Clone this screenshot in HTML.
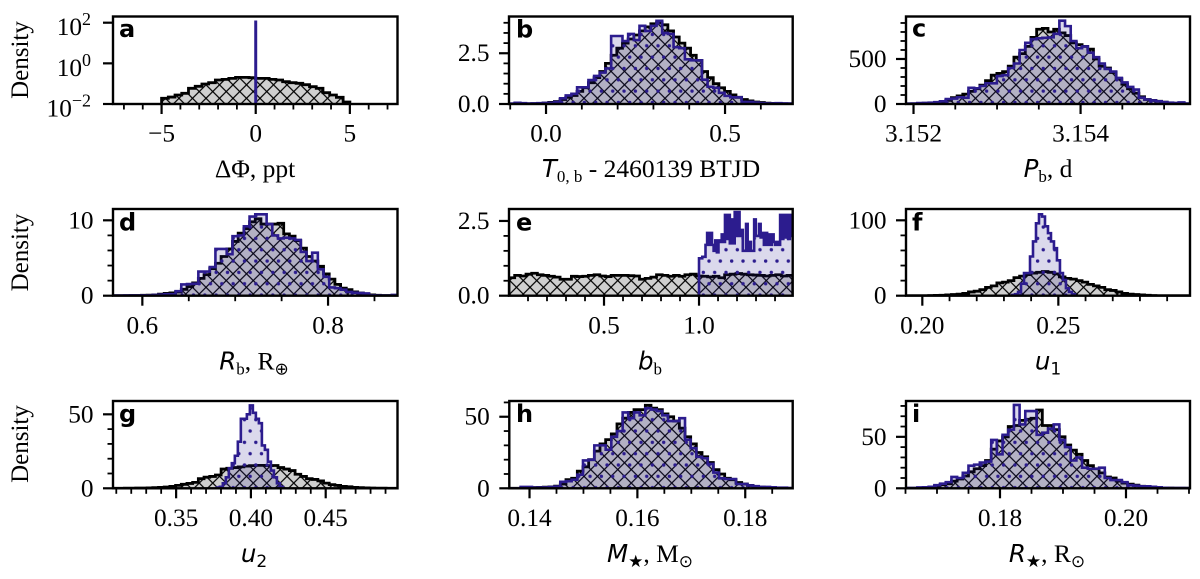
<!DOCTYPE html>
<html lang="en">
<head>
<meta charset="utf-8">
<title>Posterior density histograms</title>
<style>
html,body{margin:0;padding:0;background:#fff;}
svg{display:block;}
text{font-family:"Liberation Serif","DejaVu Serif",serif;fill:#000;}
.tick-text{font-size:25.3px;}
.ax-title{font-size:25.5px;}
.ax-y{font-size:25px;}
.it{font-family:"DejaVu Sans",sans-serif;font-style:italic;font-size:24.5px;}
.sub{font-family:"Liberation Serif",serif;font-size:17px;}
.subs{font-family:"DejaVu Sans",sans-serif;font-size:17px;}
.letter{font-family:"DejaVu Sans",sans-serif;font-weight:700;font-size:24px;}
</style>
</head>
<body>
<svg id="figure" xmlns="http://www.w3.org/2000/svg" width="1200" height="579" viewBox="0 0 1200 579">
  <defs>
    <pattern id="hatch-x" patternUnits="userSpaceOnUse" width="13.5" height="13.5" patternTransform="translate(3.5 3.8)">
      <path d="M-1,-1 L14.5,14.5 M14.5,-1 L-1,14.5" stroke="#000" stroke-width="1.2" fill="none"/>
    </pattern>
    <pattern id="hatch-dot" patternUnits="userSpaceOnUse" width="11.33" height="22.66">
      <circle cx="6.56" cy="11.8" r="1.7" fill="#2c1c8e"/>
      <circle cx="0.9" cy="0.47" r="1.7" fill="#2c1c8e"/>
      <circle cx="12.23" cy="0.47" r="1.7" fill="#2c1c8e"/>
      <circle cx="0.9" cy="23.13" r="1.7" fill="#2c1c8e"/>
      <circle cx="12.23" cy="23.13" r="1.7" fill="#2c1c8e"/>
    </pattern>
  </defs>
  <g id="plots"></g>

  <!-- y axis titles -->
  <text class="ax-y" text-anchor="middle" transform="translate(28,60) rotate(-90)">Density</text>
  <text class="ax-y" text-anchor="middle" transform="translate(28,252.5) rotate(-90)">Density</text>
  <text class="ax-y" text-anchor="middle" transform="translate(28,444) rotate(-90)">Density</text>

  <!-- x axis titles -->
  <text class="ax-title" x="255" y="177" text-anchor="middle">ΔΦ, ppt</text>
  <text class="ax-title" x="651" y="177" text-anchor="middle"><tspan class="it">T</tspan><tspan class="sub" dy="5">0, b</tspan><tspan dy="-5"> - 2460139 BTJD</tspan></text>
  <text class="ax-title" x="1048" y="177" text-anchor="middle"><tspan class="it">P</tspan><tspan class="sub" dy="5">b</tspan><tspan dy="-5">, d</tspan></text>
  <text class="ax-title" x="254" y="369.5" text-anchor="middle"><tspan class="it">R</tspan><tspan class="sub" dy="5">b</tspan><tspan dy="-5">, R</tspan><tspan class="sub" dy="5">⊕</tspan></text>
  <text class="ax-title" x="650" y="369.5" text-anchor="middle"><tspan class="it">b</tspan><tspan class="sub" dy="5">b</tspan></text>
  <text class="ax-title" x="1048" y="369.5" text-anchor="middle"><tspan class="it">u</tspan><tspan class="subs" dy="5">1</tspan></text>
  <text class="ax-title" x="254" y="562" text-anchor="middle"><tspan class="it">u</tspan><tspan class="subs" dy="5">2</tspan></text>
  <text class="ax-title" x="650" y="562" text-anchor="middle"><tspan class="it">M</tspan><tspan class="sub" dy="5">★</tspan><tspan dy="-5">, M</tspan><tspan class="sub" dy="5">⊙</tspan></text>
  <text class="ax-title" x="1047" y="562" text-anchor="middle"><tspan class="it">R</tspan><tspan class="sub" dy="5">★</tspan><tspan dy="-5">, R</tspan><tspan class="sub" dy="5">⊙</tspan></text>

  <!-- panel letters -->
  <text class="letter" x="119" y="37">a</text>
  <text class="letter" x="516" y="37.5">b</text>
  <text class="letter" x="912" y="36.5">c</text>
  <text class="letter" x="119" y="230.5">d</text>
  <text class="letter" x="516" y="230.5">e</text>
  <text class="letter" x="912" y="230.5">f</text>
  <text class="letter" x="119" y="422">g</text>
  <text class="letter" x="516" y="422">h</text>
  <text class="letter" x="912" y="422">i</text>
</svg>

<script>
// ---- panel a ----
const aBlack = [.019,.022,.0277,.0335,.059,.074,.096,.112,.152,.163,
  .183,.205,.205,.197,.183,.183,.163,.152,.125,.112,
  .104,.089,.071,.059,.036,.0277,.0213,.0125];
const aBlackRange = [-5, 5];
const aBlue = [110];
const aBlueRange = [-0.01, 0.01];
const aXMajor = [-5, 0, 5];
const aXLabels = ["−5", "0", "5"];
const aXMinor = [-7,-6,-4,-3,-2,-1,1,2,3,4,6,7];
const aYMajor = [0.01, 1, 100];
const aYExp = ["−2", "0", "2"];

// ---- panel b ----
const bBlack = [0,.01,.01,.01,.02,.03,.05,.08,.12,.22,
  .33,.42,.62,.8,1.05,1.3,1.6,2.0,2.4,2.75,
  3.0,3.2,3.4,3.6,3.8,3.95,4.0,3.9,3.6,3.3,
  3.0,2.75,2.4,2.15,1.6,1.3,1.0,.8,.62,.45,
  .33,.22,.15,.1,.07,.04,.03,.02,.01,.01];
const bBlue = [.02,.06,.04,.02,.03,.04,.05,.06,.1,.28,
  .42,.5,.82,.82,1.18,1.38,1.55,1.75,3.35,3.35,
  3.1,3.45,3.15,3.85,3.6,3.85,4.1,3.5,3.45,2.8,
  2.75,2.2,2.15,2.15,1.2,.85,.8,.55,.4,.33,
  .33,.1,.1,.07,.04,.03,.03,.04,.03,.02];
const bXMajor = [0, 0.5];
const bXLabels = ["0.0", "0.5"];
const bXMinor = [-0.1,0.1,0.2,0.3,0.4,0.6];
const bYMajor = [0, 2.5];
const bYLabels = ["0.0", "2.5"];
const bYMinor = [0.5,1,1.5,2,3,3.5,4];

// ---- panel c ----
const cBlack = [2,3,5,8,10,15,25,40,70,90,
  110,140,170,210,260,320,340,360,420,520,
  560,640,740,830,840,800,830,790,760,680,
  660,640,610,500,420,400,350,280,220,170,
  120,80,50,40,30,20,12,8,5,3];
const cBlue = [3,5,10,12,15,20,30,55,60,75,
  70,180,175,200,230,230,310,320,400,450,
  600,680,720,730,735,740,780,925,865,700,
  620,640,570,520,450,390,360,290,240,190,
  160,70,50,40,30,20,15,10,18,5];
const cXMajor = [3.152, 3.154];
const cXLabels = ["3.152", "3.154"];
const cXMinor = [3.1525,3.153,3.1535,3.1545,3.155];
const cYMajor = [0, 500];
const cYLabels = ["0", "500"];
const cYMinor = [100,200,300,400,600,700,800,900];

// ---- panel d ----
const dBlack = [0,.01,.01,.02,.03,.05,.07,.1,.2,.3,
  .38,.5,.85,1.2,1.7,2.3,2.8,3.6,4.3,5.2,
  6.2,7.2,8.3,8.9,9.8,10.2,9.5,9.5,9.5,9.6,
  8.2,7.9,7.3,6.3,5.2,4.6,3.9,2.9,2.2,1.5,
  1.0,.8,.5,.35,.2,.1,.05,.03,.02,.01];
const dBlue = [.02,.02,.03,.03,.04,.05,.05,.1,.13,.2,
  .2,.6,1.5,1.55,1.6,3.2,3.2,3.8,6.2,6.2,
  5.5,7.9,8,9.2,10.5,10.8,10.8,9.5,8,7.6,
  7.7,7.6,7.4,5.8,4.6,5.7,3.5,2.5,1.1,1,
  .8,.5,.4,.35,.3,.05,.03,.02,.02,.1];
const dXMajor = [0.6, 0.8];
const dXLabels = ["0.6", "0.8"];
const dXMinor = [0.65,0.7,0.75,0.85];
const dYMajor = [0, 10];
const dYLabels = ["0", "10"];
const dYMinor = [2,4,6,8];

// ---- panel e ----
const eBlack = [.6,.68,.66,.72,.75,.7,.68,.65,.62,.55,
  .55,.65,.64,.65,.68,.7,.66,.64,.68,.68,
  .68,.67,.66,.55,.58,.62,.7,.68,.65,.68,
  .65,.7,.72,.66,.65,.63,.65,.6,.7,.72,
  .74,.72,.7,.69,.68,.66,.68,.7,.66,.68];
const eBlue = [1.25,1.25,1.3,1.3,1.7,2.1,1.7,2.1,1.7,1.5,
  1.85,1.45,1.85,1.8,2.05,1.8,2.7,1.9,2.7,1.75,
  2.55,1.75,2.8,2.0,2.8,2.0,2.2,1.5,1.5,2.4,
  1.5,1.8,1.5,1.5,2.55,2.0,2.0,2.4,1.95,2.1,
  1.7,2.1,1.7,2.05,1.7,2.05,1.8,1.7,1.8,1.7,
  2.7,1.9,2.7,1.95,2.7,1.9,2.7,2.0];
const eBlueRange = [1.0, 1.495];
const eXMajor = [0.5, 1.0];
const eXLabels = ["0.5", "1.0"];
const eXMinor = [0.1,0.2,0.3,0.4,0.6,0.7,0.8,0.9,1.1,1.2,1.3,1.4];
const eYMajor = [0, 2.5];
const eYLabels = ["0.0", "2.5"];
const eYMinor = [0.5,1,1.5,2];

// ---- panel f ----
const fBlack = [0,0,0,0,.2,.4,.6,1,1.5,2,
  3,5,6,8,11,13,17,18,20,24,
  26,28,30,31,32,31,29,25,23,22,
  20,18,15,13,11,8,7,5,3,2,
  1.5,1,.5,.2,0,0,0,0,0,0];
const fBlue = [1,2,5,16,30,30,52,72,96,108,105,92,83,72,63,47,30,21,10,5,2];
const fBlueRange = [0.23298, 0.2561];
const fXMajor = [0.20, 0.25];
const fXLabels = ["0.20", "0.25"];
const fXMinor = [0.21,0.22,0.23,0.24,0.26,0.27,0.28,0.29];
const fYMajor = [0, 100];
const fYLabels = ["0", "100"];
const fYMinor = [20,40,60,80];

// ---- panel g ----
const gBlack = [0,.05,.1,.1,.15,.2,.3,.4,.6,.9,
  1.3,2,2.7,3.3,4,6.5,7.5,8,9,13,
  13.5,14,14.5,15,15.3,15.5,15.5,15.3,15.4,14,
  13,12,9.5,8,6.5,6,5,3.5,2.5,2,
  1.3,1,.6,.4,.3,.2,.1,.1,.05,0];
const gBlue = [.5,1,3.4,7.4,13.5,17,22,31.5,47,47,50,56,51,47,44,29,26,18,12,7.4,3.4,1];
const gBlueRange = [0.3772, 0.4214];
const gXMajor = [0.35, 0.40, 0.45];
const gXLabels = ["0.35", "0.40", "0.45"];
const gXMinor = [0.31,0.32,0.33,0.34,0.36,0.37,0.38,0.39,0.41,0.42,0.43,0.44,0.46,0.47,0.48,0.49];
const gYMajor = [0, 50];
const gYLabels = ["0", "50"];
const gYMinor = [10,20,30,40];

// ---- panel h ----
const hBlack = [0,0,.2,.4,.5,.6,.8,1,1.5,3,
  6,7,12,15,20,26,31,34,38,45,
  49,53,55,55,58,56,55,52,50,47,
  42,36,31,25,22,18,13,10,7,6,
  4,3,2,1,.8,.5,.3,.2,.1,0];
const hBlue = [0,0,1,1,.4,.5,.6,.9,1.2,4.5,
  5,6,9.5,19.5,20,30,30,27,36,40,
  53,49,53,51,56,55,54,51,47,47,
  49,34,28,22,21,17,11,7,6.5,6.5,
  3,3,2,1.5,1,1,.7,.4,.4,.2];
const hXMajor = [0.14, 0.16, 0.18];
const hXLabels = ["0.14", "0.16", "0.18"];
const hXMinor = [0.145,0.15,0.155,0.165,0.17,0.175,0.185];
const hYMajor = [0, 50];
const hYLabels = ["0", "50"];
const hYMinor = [10,20,30,40,60];

// ---- panel i ----
const iBlack = [.1,.2,.3,.5,1,2,3.5,4.5,7,9,
  12,16,19,22,27,38,46,50,60,61,
  66,67,68,76,61,61,57,50,42,37,
  33,27,22,19,15,11,10,7,5,4,
  3,2,1.5,1,.7,.4,.3,.2,.1,.1];
const iBlue = [.3,.3,.8,1,1.5,3,4.5,6,11,10,
  15,22,23,25,26,47,33,52,57,81,
  62,75,75,52,54,58,62,47,40,27,
  30,20,19,19,20,10,8,8,6,3,
  2.5,2,2,1.5,1,.5,.3,.2,.2,.1];
const iXMajor = [0.18, 0.20];
const iXLabels = ["0.18", "0.20"];
const iXMinor = [0.165,0.17,0.175,0.185,0.19,0.195,0.205,0.21];
const iYMajor = [0, 50];
const iYLabels = ["0", "50"];
const iYMinor = [10,20,30,40,60,70,80];

// ---- axes ----
const axesList = [
  {id:'a',box:[113,16.5,397.5,104],xlim:[-7.58,7.53],ylim:[0.01,201.8],log:true,black:aBlack,blackRange:aBlackRange,blue:aBlue,blueRange:aBlueRange,xMajor:aXMajor,xLabels:aXLabels,xMinor:aXMinor,yMajor:aYMajor,yExp:aYExp,yMinor:[]},
  {id:'b',box:[509,16.5,792.7,104],xlim:[-0.1034,0.689],ylim:[0,4.31],black:bBlack,blue:bBlue,xMajor:bXMajor,xLabels:bXLabels,xMinor:bXMinor,yMajor:bYMajor,yLabels:bYLabels,yMinor:bYMinor},
  {id:'c',box:[906,16.5,1190,104],xlim:[3.15191,3.15531],ylim:[0,972],black:cBlack,blue:cBlue,xMajor:cXMajor,xLabels:cXLabels,xMinor:cXMinor,yMajor:cYMajor,yLabels:cYLabels,yMinor:cYMinor},
  {id:'d',box:[113,209,397.5,295.7],xlim:[0.5684,0.8748],ylim:[0,11.5],black:dBlack,blue:dBlue,xMajor:dXMajor,xLabels:dXLabels,xMinor:dXMinor,yMajor:dYMajor,yLabels:dYLabels,yMinor:dYMinor},
  {id:'e',box:[509,209,792.7,295.7],xlim:[0,1.493],ylim:[0,2.9],black:eBlack,blue:eBlue,blueRange:eBlueRange,xMajor:eXMajor,xLabels:eXLabels,xMinor:eXMinor,yMajor:eYMajor,yLabels:eYLabels,yMinor:eYMinor},
  {id:'f',box:[906,209,1190,295.7],xlim:[0.194,0.2984],ylim:[0,115],black:fBlack,blue:fBlue,blueRange:fBlueRange,xMajor:fXMajor,xLabels:fXLabels,xMinor:fXMinor,yMajor:fYMajor,yLabels:fYLabels,yMinor:fYMinor},
  {id:'g',box:[113,401,397.5,488.3],xlim:[0.3078,0.498],ylim:[0,59],black:gBlack,blue:gBlue,blueRange:gBlueRange,xMajor:gXMajor,xLabels:gXLabels,xMinor:gXMinor,yMajor:gYMajor,yLabels:gYLabels,yMinor:gYMinor},
  {id:'h',box:[509.3,401,792.7,488.3],xlim:[0.13625,0.1888],ylim:[0,61],black:hBlack,blue:hBlue,xMajor:hXMajor,xLabels:hXLabels,xMinor:hXMinor,yMajor:hYMajor,yLabels:hYLabels,yMinor:hYMinor},
  {id:'i',box:[906,401,1190,488.3],xlim:[0.16508,0.21016],ylim:[0,84.8],black:iBlack,blue:iBlue,xMajor:iXMajor,xLabels:iXLabels,xMinor:iXMinor,yMajor:iYMajor,yLabels:iYLabels,yMinor:iYMinor}
];

const NS = 'http://www.w3.org/2000/svg';
const BLUE = '#2c1c8e';

function mk(tag, parent, attrs) {
  const el = document.createElementNS(NS, tag);
  for (const k in attrs) el.setAttribute(k, attrs[k]);
  parent.appendChild(el);
  return el;
}

function xScale(ax) {
  const [l,, r] = ax.box;
  return v => l + (v - ax.xlim[0]) / (ax.xlim[1] - ax.xlim[0]) * (r - l);
}

function yScale(ax) {
  const t = ax.box[1], b = ax.box[3];
  if (ax.log) {
    const a = Math.log10(ax.ylim[0]), c = Math.log10(ax.ylim[1]);
    return v => b - (Math.log10(Math.max(v, ax.ylim[0])) - a) / (c - a) * (b - t);
  }
  return v => b - (v - ax.ylim[0]) / (ax.ylim[1] - ax.ylim[0]) * (b - t);
}

function stepPath(values, range, sx, sy, base) {
  const w = (range[1] - range[0]) / values.length;
  let d = 'M' + sx(range[0]).toFixed(2) + ',' + base;
  values.forEach((v, i) => {
    const x0 = sx(range[0] + i * w).toFixed(2);
    const x1 = sx(range[0] + (i + 1) * w).toFixed(2);
    const y = sy(v).toFixed(2);
    d += 'L' + x0 + ',' + y + 'L' + x1 + ',' + y;
  });
  d += 'L' + sx(range[1]).toFixed(2) + ',' + base;
  return d;
}

const root = document.getElementById('plots');

axesList.forEach(ax => {
  const [l, t, r, b] = ax.box;
  const sx = xScale(ax), sy = yScale(ax);

  const g = mk('g', root, {});
  
  

  const clip = mk('clipPath', g, {id: 'clip-' + ax.id});
  mk('rect', clip, {x: l, y: t, width: r - l, height: b - t});

  const marks = mk('g', g, {'clip-path': 'url(#clip-' + ax.id + ')'});
  const bR = ax.blackRange || ax.xlim;
  const uR = ax.blueRange || ax.xlim;
  const dK = stepPath(ax.black, bR, sx, sy, b);
  const dU = stepPath(ax.blue, uR, sx, sy, b);

  const kFill = mk('path', marks, {d: dK, fill: '#cfcfcf', stroke: 'none'});
  
  
  const kHatch = mk('path', marks, {d: dK, fill: 'url(#hatch-x)', stroke: 'none'});
  
  
  const kEdge = mk('path', marks, {d: dK, fill: 'none', stroke: '#000', 'stroke-width': 2.8, 'stroke-linejoin': 'miter'});
  
  

  const uFill = mk('path', marks, {d: dU, fill: BLUE, 'fill-opacity': 0.17, stroke: 'none'});
  
  
  const uHatch = mk('path', marks, {d: dU, fill: 'url(#hatch-dot)', stroke: 'none'});
  
  
  const uEdge = mk('path', marks, {d: dU, fill: 'none', stroke: BLUE, 'stroke-width': 2.6, 'stroke-linejoin': 'miter'});
  
  

  // minor ticks
  ax.xMinor.forEach(v => {
    const tk = mk('line', g, {x1: sx(v), x2: sx(v), y1: b, y2: b + 5.5, stroke: '#000', 'stroke-width': 1.8});
    
    
  });
  ax.yMinor.forEach(v => {
    const tk = mk('line', g, {x1: l - 5.5, x2: l, y1: sy(v), y2: sy(v), stroke: '#000', 'stroke-width': 1.8});
    
    
  });

  // major ticks + labels
  ax.xMajor.forEach((v, i) => {
    const tk = mk('line', g, {x1: sx(v), x2: sx(v), y1: b, y2: b + 10, stroke: '#000', 'stroke-width': 2.2});
    
    
    const tx = mk('text', g, {x: sx(v), y: b + 37.7, 'text-anchor': 'middle', class: 'tick-text'});
    
    
    tx.textContent = ax.xLabels[i];
  });
  ax.yMajor.forEach((v, i) => {
    const tk = mk('line', g, {x1: l - 10, x2: l, y1: sy(v), y2: sy(v), stroke: '#000', 'stroke-width': 2.2});
    
    
    if (ax.log) {
      const tx = mk('text', g, {x: l - 22, y: sy(v) + 12.5, 'text-anchor': 'end', class: 'tick-text'});
      
      
      const base = mk('tspan', tx, {});
      base.textContent = '10';
      const sup = mk('tspan', tx, {dy: -10, 'font-size': 18});
      sup.textContent = ax.yExp[i];
    } else {
      const tx = mk('text', g, {x: l - 19.5, y: sy(v) + 8, 'text-anchor': 'end', class: 'tick-text'});
      
      
      tx.textContent = ax.yLabels[i];
    }
  });

  // spines
  const frame = mk('rect', g, {x: l, y: t, width: r - l, height: b - t, fill: 'none', stroke: '#000', 'stroke-width': 2.4});
  
  
});
</script>
</body>
</html>
